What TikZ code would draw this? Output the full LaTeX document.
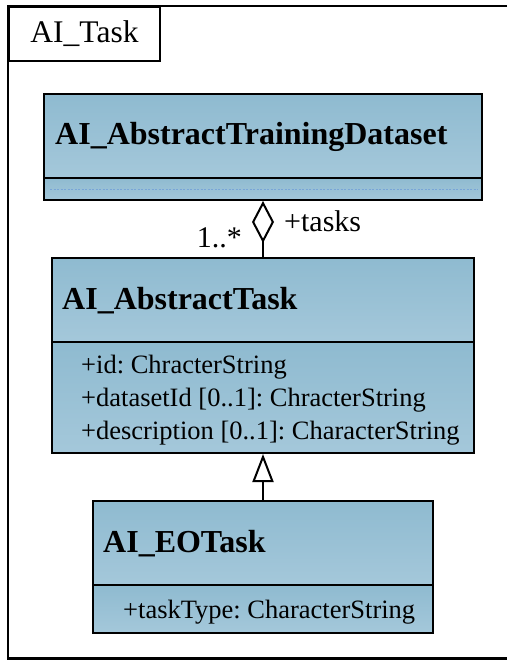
\documentclass[tikz,border=0pt]{standalone}
\usepackage{fontspec}
\setmainfont{Liberation Serif}
\usetikzlibrary{arrows.meta,calc}

\definecolor{shTop}{RGB}{132,180,203}
\definecolor{shMid}{RGB}{168,202,220}
\definecolor{shLow}{RGB}{194,219,231}
\definecolor{dotBlue}{RGB}{120,165,215}

% compartment fill: darker at the top, pale band along the bottom edge
\pgfdeclareverticalshading{umlfill}{100bp}{color(0bp)=(shLow); color(6bp)=(shLow); color(16bp)=(shMid); color(100bp)=(shTop)}

\tikzset{
  comp/.style={draw, line width=2pt, shading=umlfill, inner sep=0pt, anchor=north west},
  ctitle/.style={font=\fontsize{32}{38}\selectfont\bfseries, anchor=base west, inner sep=0pt},
  cattr/.style={font=\fontsize{26.5}{32}\selectfont, anchor=base west, inner sep=0pt},
  lbl/.style={font=\fontsize{30}{36}\selectfont, inner sep=0pt},
  conn/.style={line width=2pt},
}

\begin{document}
\frenchspacing
\begin{tikzpicture}[x=1pt,y=-1pt]
\useasboundingbox (0,0) rectangle (507,660);

% package frame (runs on past the right edge) and its name tab
\draw[line width=2.6pt] (507,6) -- (8,6) -- (8,658.5) -- (507,658.5);
\node[draw, line width=2pt, minimum width=151pt, minimum height=54pt, inner sep=0pt,
      anchor=north west, font=\fontsize{31.5}{36}\selectfont] (tab) at (8,6) {AI\_Task};

% AI_AbstractTrainingDataset
\node[comp, minimum width=438pt, minimum height=84pt] (b1head) at (43,93) {};
\node[comp, minimum width=438pt, minimum height=22pt] (b1body) at (43,177) {};
\draw[dotBlue, line width=0.8pt, dash pattern=on 2pt off 1.5pt]
  ($(b1body.west)+(7pt,0)$) -- ($(b1body.east)+(-5pt,0)$);
\node[ctitle] (t1) at (55,145) {AI\_AbstractTrainingDataset};

% AI_AbstractTask
\node[comp, minimum width=422pt, minimum height=84pt] (b2head) at (51,257) {};
\node[comp, minimum width=422pt, minimum height=111pt] (b2body) at (51,341) {};
\node[ctitle] (t2) at (62,309) {AI\_AbstractTask};
\node[cattr] (a21) at (81,373) {+id: ChracterString};
\node[cattr] (a22) at (81,406) {+datasetId [0..1]: ChracterString};
\node[cattr] (a23) at (81,439) {+description [0..1]: CharacterString};

% AI_EOTask
\node[comp, minimum width=340pt, minimum height=84pt] (b3head) at (92,500) {};
\node[comp, minimum width=340pt, minimum height=48pt] (b3body) at (92,584) {};
\node[ctitle] (t3) at (103,552) {AI\_EOTask};
\node[cattr] (a31) at (123,618) {+taskType: CharacterString};

% aggregation: dataset holds tasks
\draw[conn, {Diamond[open, fill=white, length=42pt, width=22pt, line width=2pt]}-]
  (b1body.south) -- (b2head.north);
\node[lbl, anchor=base east] (mult) at (242,247) {1..*};
\node[lbl, anchor=base west] (role) at (284,231) {+tasks};

% generalization: EO task specialises the abstract task
\draw[conn, -{Triangle[open, fill=white, length=28pt, width=21pt, line width=2pt]}]
  (b3head.north) -- (b2body.south);
\end{tikzpicture}
\end{document}
